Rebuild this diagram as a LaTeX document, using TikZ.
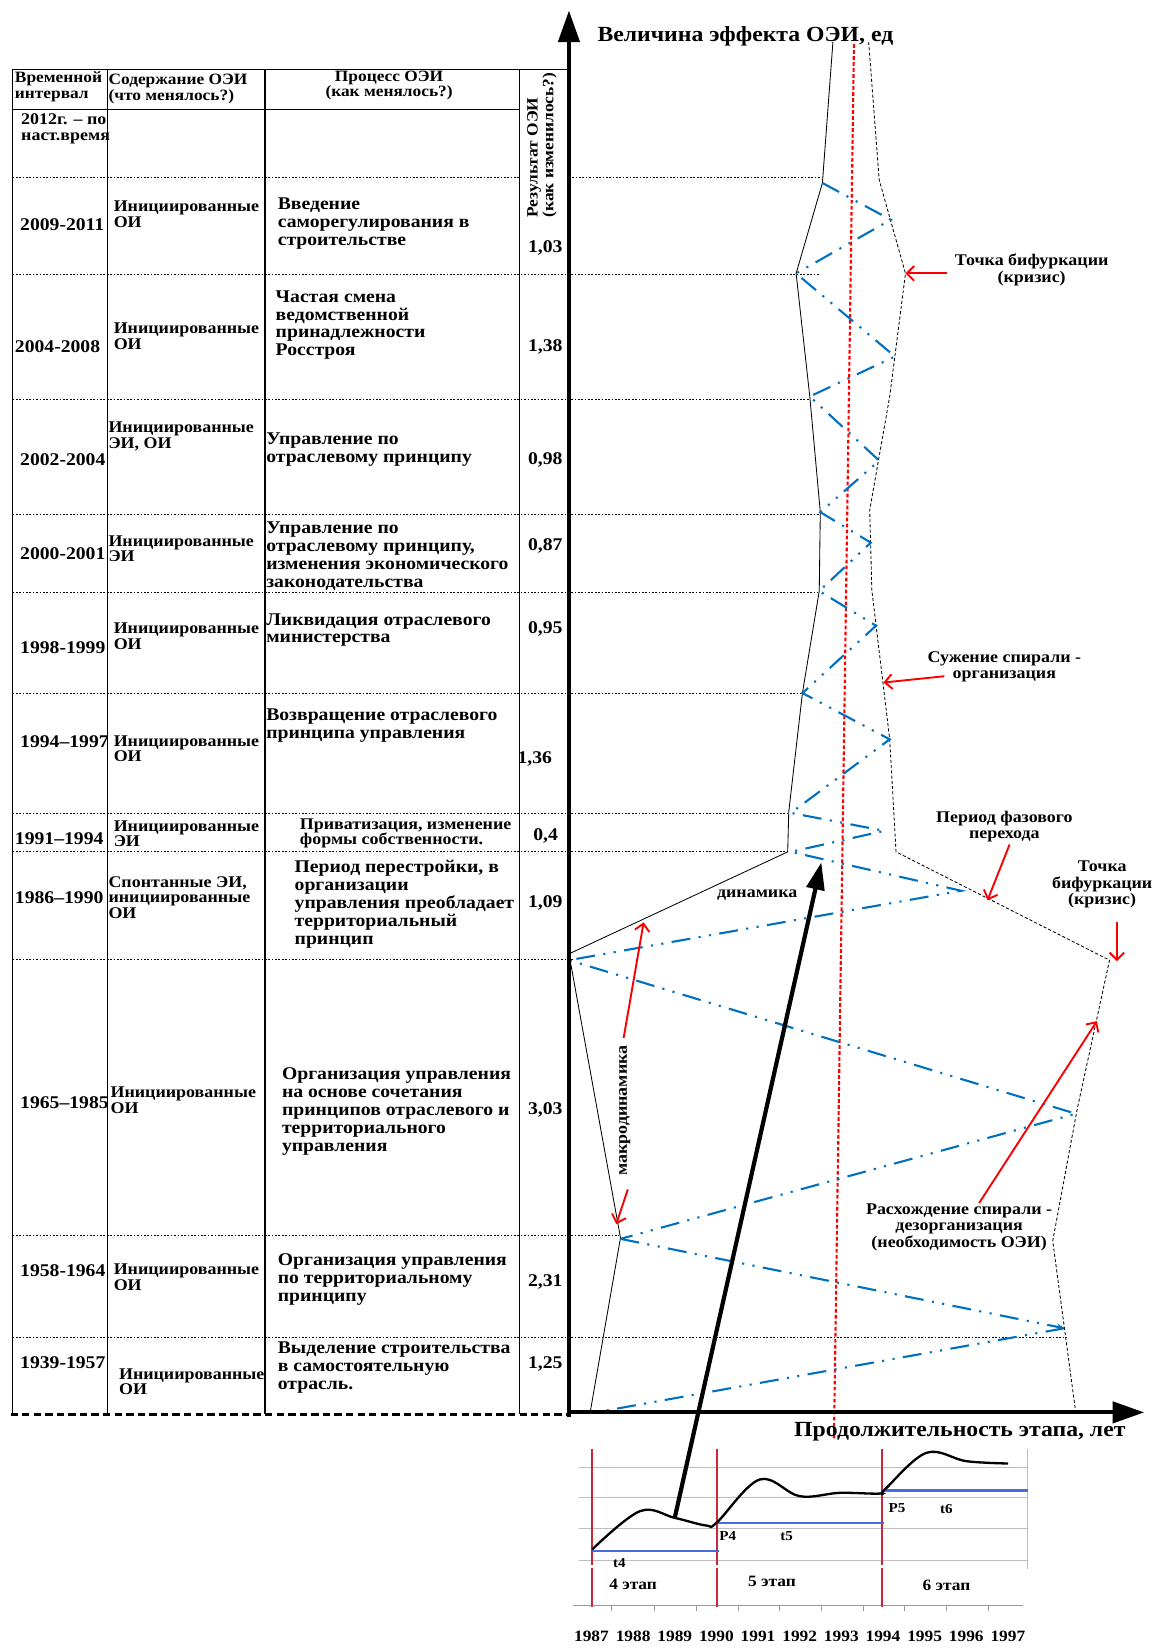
\documentclass[tikz,border=0pt]{standalone}
\usepackage{fontspec}
\setmainfont{Liberation Serif}[FakeStretch=1.1]
\usetikzlibrary{arrows.meta}
\definecolor{zblue}{RGB}{0,112,192}
\definecolor{cred}{RGB}{200,40,55}
\definecolor{ared}{RGB}{250,0,0}
\definecolor{cblue}{RGB}{75,105,225}
\definecolor{cgray}{RGB}{190,190,190}
\begin{document}
\begin{tikzpicture}[x=1pt,y=-1pt,
  tline/.style={line width=1.2pt},
  rowline/.style={line width=0.8pt, dash pattern=on 1.6pt off 1.6pt},
  yr/.style={anchor=west, inner sep=0, font=\bfseries\fontsize{17}{17}\selectfont},
  ct/.style={anchor=north west, inner sep=0, align=left, font=\bfseries\fontsize{15.5}{15}\selectfont},
  pr/.style={anchor=north west, inner sep=0, align=left, font=\bfseries\fontsize{17}{17}\selectfont},
  prs/.style={anchor=north west, inner sep=0, align=left, font=\bfseries\fontsize{15.5}{14.5}\selectfont},
  rv/.style={anchor=west, inner sep=0, font=\bfseries\fontsize{17}{17}\selectfont},
  hd/.style={inner sep=0, font=\bfseries\fontsize{15}{15}\selectfont},
  ann/.style={inner sep=0, align=center, font=\bfseries\fontsize{15.5}{16}\selectfont},
  axisline/.style={line width=4pt, -{Triangle[length=30pt,width=20pt]}},
  redarr/.style={ared, line width=1.8pt, -{Straight Barb[length=7pt,width=14pt]}},
  zig/.style={zblue, line width=2pt, dash pattern=on 18pt off 8pt on 2pt off 8pt on 2pt off 8pt},
  bnd/.style={black, line width=0.8pt},
  bndd/.style={black, line width=0.8pt, dash pattern=on 3pt off 2pt},
  chlab/.style={inner sep=0, font=\bfseries\fontsize{13}{13}\selectfont},
  yearlab/.style={inner sep=0, font=\bfseries\fontsize{15}{15}\selectfont}
]
\useasboundingbox (0,0) rectangle (1099,1568);

% ---------------- table frame
\draw[tline] (12,66) -- (541,66);
\draw[tline] (12,104) -- (494,104);
\foreach \xx in {12,102,252,494} \draw[tline] (\xx,66) -- (\xx,1345);
\draw[line width=2.6pt, dash pattern=on 7pt off 4pt] (10,1345) -- (541,1345);

% row lines
\draw[rowline] (12,169) -- (494,169);
\draw[rowline] (541,169) -- (780,169);
\draw[rowline] (12,261) -- (779,261);
\draw[rowline] (12,380) -- (769,380);
\draw[rowline] (12,489) -- (780,489);
\draw[rowline] (12,563) -- (777,563);
\draw[rowline] (12,659) -- (762,659);
\draw[rowline] (12,773) -- (751,773);
\draw[rowline] (12,810) -- (749,810);
\draw[rowline] (12,912) -- (546,912);
\draw[rowline] (12,1175) -- (589,1175);
\draw[rowline] (12,1272) -- (1014,1272);

% header
\node[hd, anchor=north west, align=left] (h1) at (14,68) {Временной\\интервал};
\node[hd, anchor=north west, align=left] (h2) at (103,70) {Содержание ОЭИ\\(что менялось?)};
\node[hd, anchor=north, align=center] (h3) at (370,67) {Процесс ОЭИ\\(как менялось?)};
\node[hd, rotate=90, anchor=north west, align=left] (h4) at (501,207) {Результат ОЭИ\\(как изменилось?)};

% rows
\node[ct, font=\bfseries\fontsize{15.5}{15.5}\selectfont] (r0a) at (20,108) {2012г. – по\\наст.время};

\node[yr] (r1a) at (19,214) {2009-2011};
\node[ct] (r1b) at (108,191) {Инициированные\\ОИ};
\node[pr] (r1c) at (264,188) {Введение\\саморегулирования в\\строительстве};
\node[rv] (r1d) at (502,236) {1,03};

\node[yr] (r2a) at (14,330) {2004-2008};
\node[ct] (r2b) at (108,307) {Инициированные\\ОИ};
\node[pr] (r2c) at (262,276) {Частая смена\\ведомственной\\принадлежности\\Росстроя};
\node[rv] (r2d) at (502,330) {1,38};

\node[yr] (r3a) at (19,437) {2002-2004};
\node[ct] (r3b) at (103,401) {Инициированные\\ЭИ, ОИ};
\node[pr] (r3c) at (253,411) {Управление по\\отраслевому принципу};
\node[rv] (r3d) at (502,437) {0,98};

\node[yr] (r4a) at (19,526) {2000-2001};
\node[ct] (r4b) at (103,509) {Инициированные\\ЭИ};
\node[pr] (r4c) at (253,496) {Управление по\\отраслевому принципу,\\изменения экономического\\законодательства};
\node[rv] (r4d) at (502,519) {0,87};

\node[yr] (r5a) at (19,616) {1998-1999};
\node[ct] (r5b) at (108,592) {Инициированные\\ОИ};
\node[pr] (r5c) at (253,583) {Ликвидация отраслевого\\министерства};
\node[rv] (r5d) at (502,598) {0,95};

\node[yr] (r6a) at (19,705) {1994–1997};
\node[ct] (r6b) at (108,699) {Инициированные\\ОИ};
\node[pr] (r6c) at (253,674) {Возвращение отраслевого\\принципа управления};
\node[rv] (r6d) at (492,722) {1,36};

\node[yr] (r7a) at (14,797) {1991–1994};
\node[ct] (r7b) at (108,780) {Инициированные\\ЭИ};
\node[prs] (r7c) at (285,778) {Приватизация, изменение\\формы собственности.};
\node[rv] (r7d) at (507,795) {0,4};

\node[yr] (r8a) at (14,854) {1986–1990};
\node[ct] (r8b) at (103,833) {Спонтанные ЭИ,\\инициированные\\ОИ};
\node[pr] (r8c) at (280,818) {Период перестройки, в\\организации\\управления преобладает\\территориальный\\принцип};
\node[rv] (r8d) at (502,859) {1,09};

\node[yr] (r9a) at (19,1048) {1965–1985};
\node[ct] (r9b) at (105,1033) {Инициированные\\ОИ};
\node[pr] (r9c) at (268,1015) {Организация управления\\на основе сочетания\\принципов отраслевого и\\территориального\\управления};
\node[rv] (r9d) at (502,1055) {3,03};

\node[yr] (r10a) at (19,1208) {1958-1964};
\node[ct] (r10b) at (108,1202) {Инициированные\\ОИ};
\node[pr] (r10c) at (264,1192) {Организация управления\\по территориальному\\принципу};
\node[rv] (r10d) at (502,1219) {2,31};

\node[yr] (r11a) at (19,1296) {1939-1957};
\node[ct] (r11b) at (113,1301) {Инициированные\\ОИ};
\node[pr] (r11c) at (264,1276) {Выделение строительства\\в самостоятельную\\отрасль.};
\node[rv] (r11d) at (502,1297) {1,25};

% ---------------- spiral boundaries
\draw[bnd] (792,40) -- (782,174) -- (757,260) -- (770,377) -- (780,487) -- (779,562)
  -- (763,659) -- (750,772) -- (749,810) -- (541,907) -- (590,1177) -- (561,1344);
\draw[bndd] (826,40) -- (836,171) -- (861,260) -- (846,377) -- (827,485) -- (829,561)
  -- (846,703) -- (852,810) -- (1055,913) -- (1024,1056) -- (1001,1180) -- (1023,1344);

% red centre line
\draw[red, line width=2pt, dash pattern=on 3.5pt off 2.2pt] (812,42) -- (793,1368);

% blue zigzag
\coordinate (z0) at (782,174);
\coordinate (z1) at (847,209);
\coordinate (z2) at (757,260);
\coordinate (z3) at (851,339);
\coordinate (z4) at (770,377);
\coordinate (z5) at (836,438);
\coordinate (z6) at (780,487);
\coordinate (z7) at (828,516);
\coordinate (z8) at (779,562);
\coordinate (z9) at (833,595);
\coordinate (z10) at (763,659);
\coordinate (z11) at (846,703);
\coordinate (z12) at (752,773);
\coordinate (z13) at (841,790);
\coordinate (z14) at (752,810);
\coordinate (z15) at (914,847);
\coordinate (z16) at (541,913);
\coordinate (z17) at (1023,1059);
\coordinate (z18) at (590,1178);
\coordinate (z19) at (1012,1263);
\coordinate (z20) at (561,1344);
\draw[zig] (z0) -- (z1) -- (z2) -- (z3) -- (z4) -- (z5) -- (z6) -- (z7) -- (z8) -- (z9)
  -- (z10) -- (z11) -- (z12) -- (z13) -- (z14) -- (z15) -- (z16) -- (z17) -- (z18);
\draw[zig, -{Stealth[length=7pt,width=6pt]}] (z18) -- (z19);
\draw[zig] (z19) -- (z20);

% ---------------- axes
\draw[axisline] (541,1347) -- (541,10);
\draw[axisline] (539,1343) -- (1088,1343);
\node[inner sep=0, anchor=west, font=\bfseries\fontsize{20.5}{20}\selectfont] (ttl) at (568,35) {Величина эффекта ОЭИ, ед};
\node[inner sep=0, anchor=west, font=\bfseries\fontsize{20.5}{20}\selectfont] (xlab) at (755,1361) {Продолжительность этапа, лет};

% ---------------- annotations
\node[ann] (a1) at (981,257) {Точка бифуркации\\(кризис)};
\coordinate (a1s) at (900,260);
\coordinate (a1t) at (861,260);
\draw[redarr] (a1s) -- (a1t);

\node[ann] (a2) at (955,634) {Сужение спирали -\\организация};
\coordinate (a2s) at (898,643);
\coordinate (a2t) at (840,649);
\draw[redarr] (a2s) -- (a2t);

\node[ann] (a3) at (955,786) {Период фазового\\перехода};
\coordinate (a3s) at (960,803);
\coordinate (a3t) at (939,856);
\draw[redarr] (a3s) -- (a3t);

\node[ann] (a4) at (1048,841) {Точка\\бифуркации\\(кризис)};
\coordinate (a4s) at (1062,877);
\coordinate (a4t) at (1062,914);
\draw[redarr] (a4s) -- (a4t);

\node[ann] (a5) at (912,1167) {Расхождение спирали -\\дезорганизация\\(необходимость ОЭИ)};
\coordinate (a5s) at (931,1144);
\coordinate (a5t) at (1043,971);
\draw[redarr] (a5s) -- (a5t);

\node[ann] (dyn) at (720,851) {динамика};
\node[ann, rotate=90] (mdyn) at (594,1056) {макродинамика};
\coordinate (m1s) at (593,987);
\coordinate (m1t) at (612,877);
\draw[redarr] (m1s) -- (m1t);
\coordinate (m2s) at (597,1131);
\coordinate (m2t) at (586,1164);
\draw[redarr] (m2s) -- (m2t);

% ---------------- bottom chart
\foreach \yy in {1395,1423.6,1453.7,1483.8} \draw[cgray, line width=1pt] (551,\yy) -- (977,\yy);
\draw[cgray, line width=1pt] (977,1378) -- (977,1492);
\draw[cgray!80!black, line width=1pt] (545,1527) -- (973,1527);
\foreach \xx in {581.4,622.6,662.2,701.8,741.4,781,820.6,860.2,899.8,939.5}
  \draw[cgray!80!black, line width=0.8pt] (\xx,1527) -- (\xx,1532);
\foreach \xx in {563,682,839} {
  \draw[cred, line width=1.8pt] (\xx,1378) -- (\xx,1488);
  \draw[cred, line width=1.8pt] (\xx,1491) -- (\xx,1528);
}
\draw[cblue, line width=2pt] (563,1475) -- (684,1475);
\draw[cblue, line width=2pt] (682,1448) -- (841,1448);
\draw[cblue, line width=2pt] (839,1417.3) -- (977.5,1417.3);
\draw[black, line width=2.2pt] plot[smooth, tension=0.6] coordinates {
 (563,1473.4) (608.3,1437) (641.6,1443.3) (671.7,1450.6) (681.9,1447.4)
 (722.4,1406.8) (760.4,1422.7) (798.5,1419.5) (836.5,1420.2) (841.2,1416.4)
 (880.8,1381.5) (918.9,1389.4) (958.5,1391.6)};
\coordinate (cp) at (641.6,1443.3);
\coordinate (dtip) at (781,820);
\draw[line width=4pt, -{Triangle[length=26pt,width=17pt]}] (cp) -- (dtip);

\node[chlab] (p4) at (692,1461) {P4};
\node[chlab] (t5) at (748,1461) {t5};
\node[chlab] (p5) at (853,1434) {P5};
\node[chlab] (t6) at (900,1435) {t6};
\node[chlab] (t4) at (589,1486) {t4};
\node[yearlab] (s4) at (602,1507) {4 этап};
\node[yearlab] (s5) at (734,1504) {5 этап};
\node[yearlab] (s6) at (900,1507) {6 этап};
\foreach \yy [count=\i from 0] in {1987,1988,1989,1990,1991,1992,1993,1994,1995,1996,1997}
  \node[yearlab] (yl\i) at ({562.4+39.6*\i},1556) {\yy};
\end{tikzpicture}
\end{document}
